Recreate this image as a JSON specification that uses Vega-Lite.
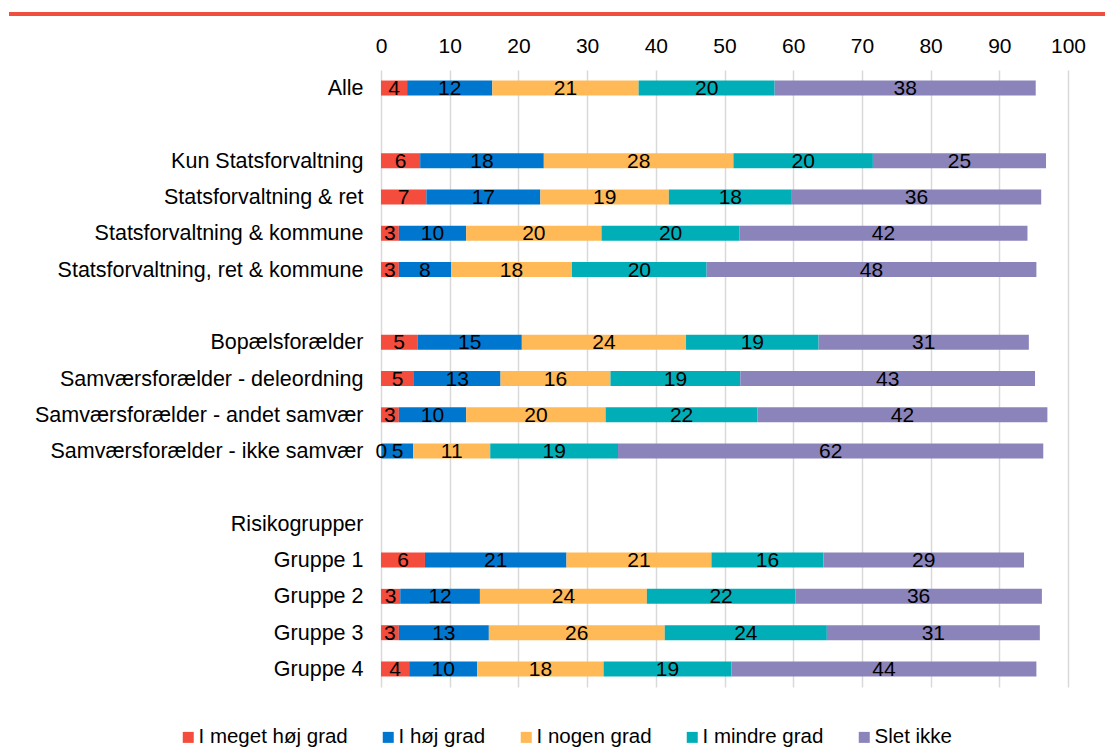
{
  "$schema": "https://vega.github.io/schema/vega-lite/v6.json",
  "width": 687,
  "height": 617,
  "autosize": {"type": "none"},
  "padding": {"left": 381, "top": 70, "right": 37, "bottom": 60},
  "background": "#ffffff",
  "config": {
    "view": {"stroke": null},
    "font": "Liberation Sans, Arial, sans-serif"
  },
  "datasets": {
    "main": [
      {"group": "Alle", "response": "I meget høj grad", "order": 1, "value": 3.8},
      {"group": "Alle", "response": "I høj grad", "order": 2, "value": 12.4},
      {"group": "Alle", "response": "I nogen grad", "order": 3, "value": 21.3},
      {"group": "Alle", "response": "I mindre grad", "order": 4, "value": 19.8},
      {"group": "Alle", "response": "Slet ikke", "order": 5, "value": 38.0},
      {"group": "Kun Statsforvaltning", "response": "I meget høj grad", "order": 1, "value": 5.7},
      {"group": "Kun Statsforvaltning", "response": "I høj grad", "order": 2, "value": 18.0},
      {"group": "Kun Statsforvaltning", "response": "I nogen grad", "order": 3, "value": 27.6},
      {"group": "Kun Statsforvaltning", "response": "I mindre grad", "order": 4, "value": 20.3},
      {"group": "Kun Statsforvaltning", "response": "Slet ikke", "order": 5, "value": 25.2},
      {"group": "Statsforvaltning & ret", "response": "I meget høj grad", "order": 1, "value": 6.6},
      {"group": "Statsforvaltning & ret", "response": "I høj grad", "order": 2, "value": 16.6},
      {"group": "Statsforvaltning & ret", "response": "I nogen grad", "order": 3, "value": 18.7},
      {"group": "Statsforvaltning & ret", "response": "I mindre grad", "order": 4, "value": 17.9},
      {"group": "Statsforvaltning & ret", "response": "Slet ikke", "order": 5, "value": 36.3},
      {"group": "Statsforvaltning & kommune", "response": "I meget høj grad", "order": 1, "value": 2.6},
      {"group": "Statsforvaltning & kommune", "response": "I høj grad", "order": 2, "value": 9.8},
      {"group": "Statsforvaltning & kommune", "response": "I nogen grad", "order": 3, "value": 19.7},
      {"group": "Statsforvaltning & kommune", "response": "I mindre grad", "order": 4, "value": 20.1},
      {"group": "Statsforvaltning & kommune", "response": "Slet ikke", "order": 5, "value": 41.9},
      {"group": "Statsforvaltning, ret & kommune", "response": "I meget høj grad", "order": 1, "value": 2.6},
      {"group": "Statsforvaltning, ret & kommune", "response": "I høj grad", "order": 2, "value": 7.6},
      {"group": "Statsforvaltning, ret & kommune", "response": "I nogen grad", "order": 3, "value": 17.6},
      {"group": "Statsforvaltning, ret & kommune", "response": "I mindre grad", "order": 4, "value": 19.6},
      {"group": "Statsforvaltning, ret & kommune", "response": "Slet ikke", "order": 5, "value": 48.0},
      {"group": "Bopælsforælder", "response": "I meget høj grad", "order": 1, "value": 5.3},
      {"group": "Bopælsforælder", "response": "I høj grad", "order": 2, "value": 15.2},
      {"group": "Bopælsforælder", "response": "I nogen grad", "order": 3, "value": 23.9},
      {"group": "Bopælsforælder", "response": "I mindre grad", "order": 4, "value": 19.3},
      {"group": "Bopælsforælder", "response": "Slet ikke", "order": 5, "value": 30.6},
      {"group": "Samværsforælder - deleordning", "response": "I meget høj grad", "order": 1, "value": 4.8},
      {"group": "Samværsforælder - deleordning", "response": "I høj grad", "order": 2, "value": 12.6},
      {"group": "Samværsforælder - deleordning", "response": "I nogen grad", "order": 3, "value": 16.0},
      {"group": "Samværsforælder - deleordning", "response": "I mindre grad", "order": 4, "value": 18.9},
      {"group": "Samværsforælder - deleordning", "response": "Slet ikke", "order": 5, "value": 42.9},
      {"group": "Samværsforælder - andet samvær", "response": "I meget høj grad", "order": 1, "value": 2.6},
      {"group": "Samværsforælder - andet samvær", "response": "I høj grad", "order": 2, "value": 9.8},
      {"group": "Samværsforælder - andet samvær", "response": "I nogen grad", "order": 3, "value": 20.3},
      {"group": "Samværsforælder - andet samvær", "response": "I mindre grad", "order": 4, "value": 22.1},
      {"group": "Samværsforælder - andet samvær", "response": "Slet ikke", "order": 5, "value": 42.2},
      {"group": "Samværsforælder - ikke samvær", "response": "I meget høj grad", "order": 1, "value": 0.1},
      {"group": "Samværsforælder - ikke samvær", "response": "I høj grad", "order": 2, "value": 4.6},
      {"group": "Samværsforælder - ikke samvær", "response": "I nogen grad", "order": 3, "value": 11.2},
      {"group": "Samværsforælder - ikke samvær", "response": "I mindre grad", "order": 4, "value": 18.6},
      {"group": "Samværsforælder - ikke samvær", "response": "Slet ikke", "order": 5, "value": 61.9},
      {"group": "Gruppe 1", "response": "I meget høj grad", "order": 1, "value": 6.4},
      {"group": "Gruppe 1", "response": "I høj grad", "order": 2, "value": 20.6},
      {"group": "Gruppe 1", "response": "I nogen grad", "order": 3, "value": 21.1},
      {"group": "Gruppe 1", "response": "I mindre grad", "order": 4, "value": 16.3},
      {"group": "Gruppe 1", "response": "Slet ikke", "order": 5, "value": 29.2},
      {"group": "Gruppe 2", "response": "I meget høj grad", "order": 1, "value": 2.8},
      {"group": "Gruppe 2", "response": "I høj grad", "order": 2, "value": 11.6},
      {"group": "Gruppe 2", "response": "I nogen grad", "order": 3, "value": 24.3},
      {"group": "Gruppe 2", "response": "I mindre grad", "order": 4, "value": 21.6},
      {"group": "Gruppe 2", "response": "Slet ikke", "order": 5, "value": 35.9},
      {"group": "Gruppe 3", "response": "I meget høj grad", "order": 1, "value": 2.6},
      {"group": "Gruppe 3", "response": "I høj grad", "order": 2, "value": 13.1},
      {"group": "Gruppe 3", "response": "I nogen grad", "order": 3, "value": 25.6},
      {"group": "Gruppe 3", "response": "I mindre grad", "order": 4, "value": 23.6},
      {"group": "Gruppe 3", "response": "Slet ikke", "order": 5, "value": 31.0},
      {"group": "Gruppe 4", "response": "I meget høj grad", "order": 1, "value": 4.1},
      {"group": "Gruppe 4", "response": "I høj grad", "order": 2, "value": 9.9},
      {"group": "Gruppe 4", "response": "I nogen grad", "order": 3, "value": 18.4},
      {"group": "Gruppe 4", "response": "I mindre grad", "order": 4, "value": 18.6},
      {"group": "Gruppe 4", "response": "Slet ikke", "order": 5, "value": 44.4}
    ],
    "deco": [{"item": "topline"}]
  },
  "layer": [
    {
      "data": {"name": "main"},
      "mark": {"type": "bar"},
      "encoding": {
        "y": {
          "field": "group",
          "type": "nominal",
          "scale": {
            "domain": ["Alle", " ", "Kun Statsforvaltning", "Statsforvaltning & ret", "Statsforvaltning & kommune", "Statsforvaltning, ret & kommune", "  ", "Bopælsforælder", "Samværsforælder - deleordning", "Samværsforælder - andet samvær", "Samværsforælder - ikke samvær", "   ", "Risikogrupper", "Gruppe 1", "Gruppe 2", "Gruppe 3", "Gruppe 4"],
            "paddingInner": 0.587,
            "paddingOuter": 0.29
          },
          "axis": {
            "title": null,
            "domain": false,
            "ticks": false,
            "grid": false,
            "labelFontSize": 21.5,
            "labelColor": "#000000",
            "labelPadding": 18,
            "labelLimit": 400,
            "labelBaseline": "middle",
            "labelOffset": 1
          }
        },
        "x": {
          "field": "value",
          "type": "quantitative",
          "stack": "zero",
          "scale": {"domain": [0, 100], "nice": false},
          "axis": {
            "orient": "top",
            "title": null,
            "values": [0, 10, 20, 30, 40, 50, 60, 70, 80, 90, 100],
            "domain": false,
            "ticks": false,
            "grid": true,
            "gridColor": "#d9d9d9",
            "gridWidth": 1.5,
            "labelFontSize": 21,
            "labelColor": "#000000",
            "labelPadding": 14,
            "labelFlush": false,
            "labelOverlap": false
          }
        },
        "color": {
          "field": "response",
          "type": "nominal",
          "scale": {
            "domain": ["I meget høj grad", "I høj grad", "I nogen grad", "I mindre grad", "Slet ikke"],
            "range": ["#F54D3D", "#0077CE", "#FFB957", "#00AEB8", "#8A84BB"]
          },
          "legend": {
            "title": null,
            "orient": "none",
            "legendX": -203,
            "legendY": 657,
            "direction": "horizontal",
            "columns": 5,
            "padding": 0,
            "symbolType": "square",
            "symbolSize": 121,
            "symbolStrokeWidth": 0,
            "labelFontSize": 20.5,
            "labelColor": "#000000",
            "labelOffset": 0,
            "columnPadding": 30
          }
        },
        "order": {"field": "order", "type": "quantitative"}
      }
    },
    {
      "data": {"name": "main"},
      "mark": {"type": "text", "fontSize": 21, "color": "#000000", "baseline": "middle", "align": "center", "dy": 1},
      "encoding": {
        "y": {"field": "group", "type": "nominal"},
        "x": {"field": "value", "type": "quantitative", "stack": "zero", "bandPosition": 0.5},
        "text": {"field": "value", "type": "quantitative", "format": ".0f"},
        "order": {"field": "order", "type": "quantitative"}
      }
    },
    {
      "data": {"name": "deco"},
      "mark": {"type": "rule", "color": "#F04E3E", "strokeWidth": 4},
      "encoding": {
        "x": {"value": -372},
        "x2": {"value": 724},
        "y": {"value": -56}
      }
    }
  ]
}
